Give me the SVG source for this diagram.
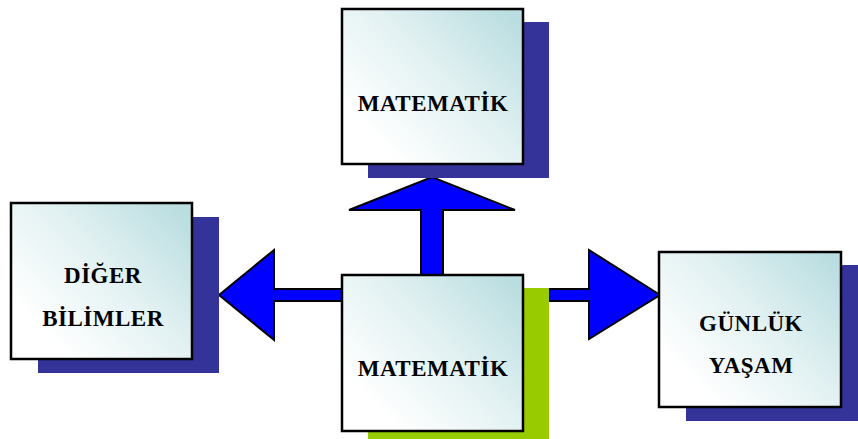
<svg xmlns="http://www.w3.org/2000/svg" width="858" height="439" viewBox="0 0 858 439">
<defs>
<linearGradient id="g" x1="1" y1="0.1" x2="0.15" y2="0.8">
<stop offset="0" stop-color="#b9dde0"/>
<stop offset="0.5" stop-color="#e2f1f2"/>
<stop offset="1" stop-color="#ffffff"/>
</linearGradient>
<style>
.box{fill:url(#g);stroke:#000;stroke-width:2.5}
.sh{fill:#333399}
.shg{fill:#99cc00}
.arr{fill:#0000ff;stroke:#000;stroke-width:2;stroke-linejoin:miter}
text{font-family:"Liberation Serif","Times New Roman",serif;font-weight:bold;font-size:23px;letter-spacing:0.5px;fill:#000;text-anchor:middle}
</style>
</defs>
<g id="connectors">
<polygon class="arr" points="421,275 421,210 349,210 432,177 515,210 443,210 443,275"/>
<polygon class="arr" points="342,289 274,289 274,250 219,295 274,340 274,301 342,301"/>
<polygon class="arr" points="548,289 589,289 589,250 660,295 589,339 589,301 548,301"/>
</g>
<g id="matematik-top">
<rect class="sh" x="368" y="22" width="181" height="156"/>
<rect class="box" x="342" y="9" width="181" height="155"/>
<text x="433" y="111">MATEMATİK</text>
</g>
<g id="diger-bilimler">
<rect class="sh" x="38" y="217" width="181" height="156"/>
<rect class="box" x="11" y="203" width="181" height="156"/>
<text x="103" y="283">DİĞER</text>
<text x="103" y="326">BİLİMLER</text>
</g>
<g id="matematik-center">
<rect class="shg" x="368" y="288" width="181" height="151"/>
<rect class="box" x="342" y="275" width="181" height="156"/>
<text x="433" y="376">MATEMATİK</text>
</g>
<g id="gunluk-yasam">
<rect class="sh" x="686" y="265" width="172" height="156"/>
<rect class="box" x="659" y="252" width="182" height="155"/>
<text x="751" y="331">GÜNLÜK</text>
<text x="751" y="373">YAŞAM</text>
</g>
</svg>
